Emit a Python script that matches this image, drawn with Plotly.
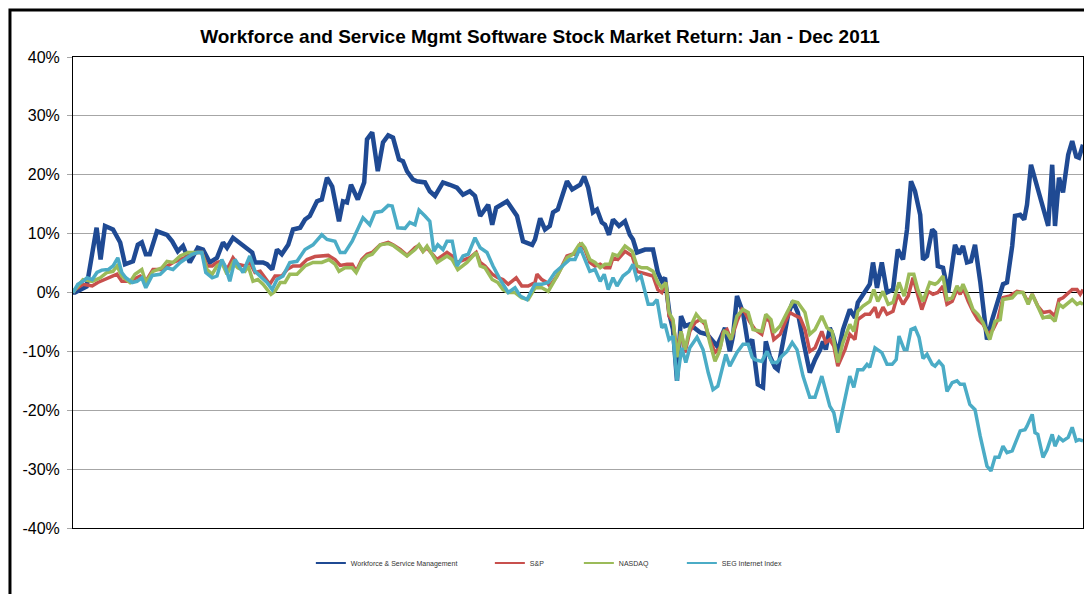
import plotly.graph_objects as go

# Trading-day index (0 = first session of 2011) and cumulative return in %
wsm_days = [0, 0.5, 3.4, 5.9, 6.9, 8, 10, 11.8, 13, 15, 16.2, 17.2, 18.2, 19.2, 21, 23.5, 24.8, 26.2, 27.5, 29.2,
            31.2, 32.5, 34.2, 36, 37.5, 38.5, 40, 41.2, 43.5, 44.8, 45.5, 47.5, 48.5, 49.8, 51, 52.2, 53.8, 55, 56.8, 58,
            59.2, 61, 62.2, 63.5, 64.8, 66.5, 67.5, 68.5, 69.5, 71.2, 72.8, 73.5, 74.8, 76.2, 77.5, 78.8, 80, 81.5, 82.5, 83.5,
            85, 86, 88, 89.2, 90.5, 92.5, 94.2, 96, 97.5, 99.2, 100.5, 101.8, 103.8, 104.8, 105.8, 108.5, 111, 112.5, 114.8, 115.5,
            116.8, 118, 119.2, 120, 121.2, 123.5, 124.8, 126, 126.8, 127.8, 128.8, 130, 131, 132.2, 133, 134, 135, 136.5, 138, 139.2,
            140, 141, 143, 145, 146.2, 147.2, 148, 148.5, 149.2, 150, 151, 152, 153, 154.2, 155.5, 156.8, 158.5, 159.2, 161, 163,
            164.2, 165, 166, 167.5, 168.8, 169.8, 171.2, 172.5, 173.2, 174.2, 175.5, 176.2, 177.5, 178.8, 180, 181.2, 182.5, 184.2, 185.5, 186.8,
            187.5, 188.2, 189.2, 190, 191.2, 192.5, 194.2, 195.5, 196.2, 197.5, 199.2, 200, 201, 202.2, 203.5, 205, 206.2, 207.5, 208.5, 209.5,
            210.5, 211.8, 212.5, 213.5, 214.8, 215.5, 216.2, 217.5, 218.8, 220.5, 221.5, 222.5, 223.5, 224.5, 225.5, 226.8, 227.5, 228.5, 229.8, 231.2,
            232.5, 233.5, 234.8, 235.5, 236.8, 237.8, 238.5, 239.5, 240.8, 242, 242.8, 243.8, 244.8, 245.5, 246.5, 247.5, 248.8, 249.8, 250.8, 251.5, 252.5]
wsm_vals = [0, 0, 1, 11, 5.6, 11.3, 10.7, 8.5, 4.8, 5.3, 8.1, 8.5, 6.5, 6.5, 10.4, 9.8, 8.7, 7.0, 7.9, 5.1,
            7.6, 7.3, 5.1, 5.9, 8.5, 7.6, 9.3, 8.7, 7.6, 6.8, 5.1, 5.1, 4.8, 3.9, 7.3, 6.5, 8.1, 10.7, 11, 12.4,
            13, 15.5, 15.8, 19.5, 18, 12.1, 15.5, 15.3, 18.3, 15.8, 18.7, 26, 27.2, 20.6, 25.5, 26.7, 26.3, 22.6, 22.3, 20.6,
            19.2, 18.9, 18.7, 17.2, 16.4, 18.7, 18.3, 17.8, 16.6, 17.2, 16.4, 13, 14.9, 11.5, 14.4, 15.5, 13, 8.7, 8.1, 9,
            12.6, 10.7, 11.3, 13.6, 14.1, 18.9, 17.5, 18, 18.3, 19.7, 17.8, 13.6, 14.1, 11.9, 11.5, 9.8, 12.4, 11.3, 12.1, 9.8,
            9, 6.8, 7.3, 7.3, 3.4, 1.9, 2.5, -0.3, -4, -6.3, -15, -4, -5.7, -5.4, -6, -6.8, -7.1, -7.6, -9.1, -6,
            -10, -7.4, -0.6, -3.4, -9, -8, -15.6, -16.1, -8.3, -10.8, -12.7, -13.1, -8.5, -3.7, -1.5, -3.4, -8, -13.6, -11.4, -9.7,
            -8.3, -9.7, -6, -7.4, -10.5, -6.3, -2.9, -4.3, -1.7, -0.3, 1.4, 5.1, 0.8, 5.1, 0, 0.5, 7.3, 5.6, 10.7, 18.9,
            17.2, 13.2, 5.6, 6.2, 10.7, 10.2, 4.5, 4.2, 0, 8.1, 6.5, 7.9, 5.1, 5.3, 8.1, 1.9, -1.7, -8, -4.6, -1.2,
            1.4, 1.7, 7.9, 13, 13.2, 12.4, 14.9, 21.7, 18.7, 15.3, 14.1, 11.3, 21.7, 11.3, 19.5, 17, 23.4, 25.7, 23.1, 22.9, 25.1]

sp_days = [0, 0.5, 2.5, 4.8, 6.2, 8, 9, 10, 11, 12.2, 13.8, 15, 16.8, 18.2, 20, 22.2, 23.5, 25, 26.8, 28.8,
           31, 32.2, 33.5, 34.8, 36, 37.2, 38.5, 40, 41.2, 43, 44.2, 45.5, 46.8, 48, 49.2, 50.5, 52.2, 53.5, 55, 56.8,
           58.5, 60.5, 62.2, 63.8, 65.5, 66.8, 68.5, 69.8, 70.8, 72.2, 73.5, 74.8, 76.8, 78.8, 80, 81.8, 83.5, 85.5, 86.5, 87.5,
           88.5, 91, 93.5, 94.8, 96, 98, 99.2, 100.8, 101.8, 103, 104.8, 106.2, 107.5, 108.8, 109.8, 110.8, 112.2, 113.8, 115.5, 116,
           117.2, 118.5, 119.2, 121, 123.5, 124.8, 126, 126.8, 128, 129.2, 130.5, 131.8, 133, 134.2, 135, 136.2, 138, 139.8, 141, 142.2,
           143.5, 145, 146.2, 147.2, 148.2, 149, 150, 151, 152, 153, 154.2, 155.5, 156.8, 158, 159.2, 160.5, 161.8, 162.5, 163.5, 164.5,
           166, 167.2, 168, 169.2, 170.5, 172.2, 173.2, 174.2, 175.2, 176.8, 178, 179.2, 180.5, 181.8, 183, 184.2, 185.5, 187.2, 188.2, 189.2,
           190.2, 191.2, 193, 194.2, 195.5, 196.2, 198, 199.2, 200.5, 201.2, 202.5, 203.5, 205, 206.2, 207.5, 208.8, 210, 211, 212.2, 213.8,
           215, 216.2, 217.5, 218.5, 219.8, 221, 221.8, 222.5, 223.8, 225, 226.2, 227.5, 228.8, 230, 231.2, 232.5, 234.2, 236, 237.5, 238.8,
           239.8, 241.2, 242.5, 244.2, 245.5, 246.5, 247.5, 249.8, 251, 251.8, 252.5]
sp_vals = [0, 0.5, 1.4, 1.1, 1.7, 2.2, 2.4, 2.8, 3.1, 1.9, 1.9, 2.2, 2.8, 1.9, 3.9, 3.9, 4.5, 5.1, 5.6, 6.2,
           6.8, 6.8, 4.5, 4.5, 5.1, 5.3, 3.9, 5.9, 4.8, 4.5, 5.1, 3.4, 3.6, 2.5, 1.4, 2.8, 2.8, 3.9, 4.5, 4.5,
           5.6, 6.1, 6.2, 6.3, 5.6, 4.6, 4.8, 4.8, 3.6, 5.6, 6.5, 6.8, 8.1, 8.5, 8.1, 7.3, 6.3, 7.6, 8, 7,
           7.6, 5.6, 6.8, 6.2, 5.1, 5.6, 5.9, 6.8, 5.1, 4.5, 3.1, 2.5, 2.2, 1.4, 1.9, 2.5, 1.1, 1.1, 1.7, 3.1,
           2.2, 1.7, 1.1, 2.8, 6.2, 6.5, 6.5, 8.1, 7.3, 5.1, 4.5, 4.8, 4.2, 4.2, 5.9, 5.6, 7, 6.2, 3.6, 3.4,
           3.1, 2.8, 0.5, 0, 1.7, -4, -4.9, -10.2, -6.6, -10.2, -6.6, -5.1, -4.6, -5.4, -8, -10.2, -9.4, -6.8, -6.3, -8,
           -4.9, -2.9, -3.4, -5, -6.3, -7.1, -4.3, -4.9, -8, -7.1, -5.1, -3.4, -3.9, -4.3, -6.3, -10, -9.4, -6.6, -8.5, -8,
           -9.1, -12.5, -9.7, -7.1, -8, -4.6, -3.7, -3.7, -2.5, -4.3, -2.5, -3.7, -3.2, -0.3, -2, -0.6, 2.5, 0, -2.9, 0.2,
           -0.3, 0, 1.1, -2, -1.5, 0.5, -0.3, 0.8, -1.5, -3.2, -4.6, -5.4, -7.1, -6.3, -4.6, -0.9, -0.6, 0.2, 0, -1.7,
           -0.3, -2.3, -3.4, -3.2, -4, -1.2, -0.9, 0.5, 0.5, -0.3, 0.5]

nasdaq_days = [0, 0.5, 2.5, 4.8, 6.8, 8.5, 10, 11, 12.2, 13.5, 14.2, 15.5, 17.2, 18.2, 20, 22.2, 23.5, 25, 26.8, 28.8,
               30.5, 32.2, 33.5, 34.8, 36, 37.2, 38.5, 40, 41.2, 43, 43.8, 45, 46.2, 47.5, 49.5, 50.5, 51.8, 53, 54.2, 56,
               58, 60, 62.2, 64, 65.5, 66.5, 68, 69.8, 70.8, 72.2, 73.5, 74.8, 76.8, 78.8, 80, 81.8, 83.5, 85.5, 86.5, 87.5,
               88.5, 91, 93.5, 94.8, 96.2, 98.5, 100.8, 101.8, 103, 104.8, 106.2, 107.5, 108.8, 110.5, 112.2, 113.8, 115.5, 117.2, 118.8, 121,
               123.5, 125, 126.5, 127.2, 128, 129.2, 130.5, 131.8, 133, 134.2, 135, 136.2, 138, 139.8, 141, 142.2, 143.5, 145, 146.2, 147.2,
               148.2, 149, 150, 151, 152, 153, 154.2, 155.8, 157.2, 158, 159.2, 160.5, 161.5, 162.8, 163.5, 164.5, 166, 167.5, 168.8, 170,
               172.2, 173.2, 174.5, 175.2, 176.8, 178.5, 180, 181.2, 183, 184.2, 185.5, 187.2, 188.5, 189.8, 191.2, 192.5, 194.2, 195.2, 196.2, 197.5,
               199.2, 200.2, 201.2, 202.5, 203.8, 205, 206.5, 207.8, 209, 210.2, 211.2, 212.5, 214.2, 215.5, 216.2, 217.5, 218.5, 219.8, 221, 221.8,
               222.5, 223.8, 225, 226.2, 227.5, 229.2, 230.5, 231.8, 232.5, 234.8, 236, 237.5, 238.8, 239.8, 241.2, 242.5, 244.2, 245.5, 246.5, 247.5,
               249.8, 251, 251.8, 252.5]
nasdaq_vals = [0, 0.5, 2.2, 1.9, 2.5, 3.4, 3.6, 4.5, 2.8, 2.2, 1.7, 3.1, 3.9, 1.7, 3.6, 4.2, 5.3, 5.1, 6.2, 6.8,
               6.8, 6.8, 3.9, 3.1, 4.5, 5.1, 3.1, 5.1, 4.2, 3.6, 4.5, 1.9, 2.2, 1.4, -0.3, 0.2, 1.7, 1.7, 3.1, 3.1,
               4.5, 5.1, 5.1, 5.6, 4.8, 3.6, 4.2, 4.2, 3.4, 5.3, 6.2, 6.5, 8.1, 8.3, 8, 7, 6.2, 7.3, 8.1, 7,
               7.9, 5.1, 6.2, 5.6, 3.9, 5.1, 6.8, 4.5, 4.2, 2.2, 1.7, 0.5, 0, 0, -0.9, -1.2, 0.8, 0.8, 0.2, 2.8,
               5.9, 6.5, 8.1, 8.3, 7.6, 5.6, 5.1, 4.2, 4.8, 4.8, 6.5, 6.2, 7.9, 7, 4.5, 4.2, 4.2, 3.6, 1.7, 0.8,
               1.7, -3.4, -4.6, -11, -6.6, -9.7, -6, -3.7, -4.9, -4.9, -8.5, -11.7, -10.2, -6.6, -6.8, -8, -4, -2.9, -3.4, -6.3,
               -6.6, -3.7, -4.6, -6.8, -5.7, -3.4, -1.5, -1.7, -3.4, -7.1, -6.3, -4, -6, -6.6, -11.9, -8.5, -5.4, -6.6, -3.2, -2.3,
               -1.5, 0.5, -1.5, 0.2, -2, -1.7, 1.7, -0.6, 3.1, 3.1, 0.5, -1.5, 1.7, 1.4, 1.7, 2.8, -1.2, -0.9, 1.1, 0.2,
               1.4, -0.6, -2.9, -3.7, -5.1, -8, -4.9, -4.6, -1.2, -0.9, 0, 0, -2, -0.3, -2.3, -4.3, -4, -4.9, -2, -2.5,
               -1.2, -2, -1.7, -2]

seg_days = [0, 0.2, 1.2, 2.5, 3.5, 4.8, 6, 7.2, 8.8, 10, 11.2, 12.2, 13.2, 14.8, 16, 17.2, 18.2, 19.8, 21.8, 23.5,
            25, 26.8, 28.5, 29.8, 31.2, 32.2, 33.2, 34.8, 36, 37.2, 38, 39.2, 40.5, 41.8, 42.5, 44.2, 45.5, 47.2, 48.5, 49.8,
            51, 52.5, 54.2, 56, 58, 60, 62.2, 63.5, 65.5, 66.8, 68, 69.8, 71, 72.5, 74.2, 75.5, 77.2, 78.8, 79.8, 81.2,
            83, 84.2, 85.5, 86.5, 88, 89.2, 90.2, 91.2, 92.5, 93.5, 94.8, 96, 97.5, 98.8, 100.5, 101.8, 103.5, 105, 106.8, 108.8,
            110.5, 111.8, 113.5, 115.5, 117.2, 118.8, 120.5, 122.5, 124.2, 125.5, 126.8, 128, 129.2, 130.5, 131.8, 132.8, 133.8, 135, 136, 137.5,
            139, 140, 141, 142, 143.8, 145, 146, 147.2, 148, 149, 150, 151, 152.2, 153.2, 154.2, 156, 157.5, 158.8, 160, 161.2,
            163.2, 164.2, 166, 167.5, 168.8, 169.8, 170.5, 172.2, 173.5, 174.8, 176, 177.2, 178.5, 179.8, 181, 182.5, 184.2, 185.5, 187.2, 189.2,
            190.2, 191.2, 192.5, 194.2, 195.2, 196.2, 197.5, 198.5, 199.2, 200.5, 202.2, 203.5, 204.8, 205.8, 206.5, 207.8, 208.5, 209.5, 210.5, 211.5,
            212.5, 213.5, 214.8, 215.5, 216.5, 217.5, 218.5, 219.8, 221, 221.8, 222.8, 224.2, 225.5, 226.8, 228.5, 229.5, 230.5, 231.5, 232.5, 233.5,
            234.8, 236.8, 238, 238.5, 239.8, 240.5, 241.2, 242.5, 243.5, 244.8, 245.5, 246.5, 247.5, 248.8, 249.8, 250.8, 251.5, 252.5]
seg_vals = [0, 0.2, 1.4, 1.9, 2.5, 2.2, 3.4, 3.8, 3.9, 4.5, 5.9, 3.4, 2.5, 1.7, 1.9, 2.5, 0.8, 2.9, 3.1, 4.2,
            3.9, 5.1, 5.9, 6.5, 6.8, 6.8, 3.4, 2.5, 2.8, 5.6, 4.5, 1.9, 5.6, 4.0, 3.4, 6.2, 3.6, 2.5, 1.7, 0.5,
            2.2, 2.8, 5.1, 5.3, 7.3, 8.1, 9.8, 9, 8.7, 6.8, 6.8, 8.7, 10.4, 12.7, 11.5, 13.6, 13.8, 14.8, 14.7, 11,
            10.9, 11.9, 11.5, 14, 13, 12.1, 7, 8.1, 7.3, 8.7, 8.7, 4.5, 6.2, 6.5, 9.3, 7.6, 6.8, 4.5, 2.2, 0,
            0.8, -0.6, -1.2, 1.4, 1.4, 1.7, 3.4, 4.5, 5.6, 5.6, 7.6, 5.6, 3.6, 3.9, 1.9, 3.1, 0.5, 2.5, 1.1, 2.8,
            3.6, 4.8, 2.2, 2.8, -2, -2, -1.2, -6, -5.4, -8, -7.4, -15, -9.4, -11.9, -9.4, -7.6, -9.7, -13.6, -16.5, -15.9,
            -10.5, -12.5, -10.2, -8.8, -8.8, -11, -11.4, -11.7, -10, -11.9, -11.9, -10.8, -10, -8.5, -9.7, -14.2, -17.8, -17.8, -14.2, -19.3,
            -20.4, -23.8, -19.9, -14.2, -16.1, -13.1, -13.1, -12.2, -12.7, -9.4, -10.2, -12.2, -12.2, -11.4, -7.4, -9.7, -9.7, -6.3, -6, -7.6,
            -11.2, -10.5, -12.2, -12.5, -11.7, -12.5, -16.8, -15.3, -15, -15.6, -15.6, -19, -19.9, -24.4, -29.5, -30.3, -28, -28, -26.1, -27.2,
            -26.9, -23.5, -23.3, -22.7, -20.7, -23.8, -24.1, -28, -26.7, -24.1, -26.1, -24.6, -25.2, -24.6, -22.9, -25.2, -25, -25.2]

series_names = ["Workforce & Service Management", "S&P", "NASDAQ", "SEG Internet Index"]
series_colors = ["#1F4A93", "#C8504D", "#9BBB59", "#4BACC6"]
series_widths = [4.5, 3.5, 3.5, 3.5]
legend_entry_widths = [134, 44, 58, 90]
y_ticks = [-40, -30, -20, -10, 0, 10, 20, 30, 40]
y_tick_text = ["-40%", "-30%", "-20%", "-10%", "0%", "10%", "20%", "30%", "40%"]
title_text = "Workforce and Service Mgmt Software Stock Market Return: Jan - Dec 2011"

W, H = 1084, 594

fig = go.Figure()
all_days = [wsm_days, sp_days, nasdaq_days, seg_days]
all_vals = [wsm_vals, sp_vals, nasdaq_vals, seg_vals]
for name, color, w, d, v in zip(series_names, series_colors, series_widths, all_days, all_vals):
    fig.add_trace(go.Scatter(x=d, y=v, mode="lines", name=name, showlegend=False,
                             line=dict(color=color, width=w), hoverinfo="skip"))
# legend entries with thin key lines (no data drawn)
for name, color, lw in zip(series_names, series_colors, legend_entry_widths):
    fig.add_trace(go.Scatter(x=[None], y=[None], mode="lines", name=name, legendwidth=lw,
                             line=dict(color=color, width=2), hoverinfo="skip"))

fig.update_layout(
    width=W, height=H,
    margin=dict(l=73, r=1, t=57, b=66),
    paper_bgcolor="white", plot_bgcolor="white",
    font=dict(family="Arial, Liberation Sans, sans-serif", color="black"),
    title=dict(text="<b>" + title_text + "</b>", x=540 / W, xref="container", xanchor="center",
               y=1 - 36 / H, yanchor="middle", font=dict(size=19, color="black")),
    showlegend=True,
    legend=dict(orientation="h", x=0.486, xanchor="center", y=-0.0743, yanchor="middle",
                font=dict(size=7, color="#333333"), itemwidth=30, tracegroupgap=0,
                entrywidthmode="pixels", bgcolor="rgba(0,0,0,0)"),
    xaxis=dict(range=[0, 252.5], showgrid=False, zeroline=False, showticklabels=False, ticks="",
               showline=True, linecolor="black", linewidth=1, mirror=True, fixedrange=True),
    yaxis=dict(range=[-40, 40], tickvals=y_ticks, ticktext=y_tick_text, showgrid=True, gridcolor="#A6A6A6",
               gridwidth=1, zeroline=True, zerolinecolor="black", zerolinewidth=1,
               ticks="outside", ticklen=5, tickcolor="#A6A6A6", ticklabelstandoff=4,
               tickfont=dict(size=16, color="black"),
               showline=True, linecolor="black", linewidth=1, mirror=True, fixedrange=True),
    shapes=[dict(type="rect", xref="paper", yref="paper", x0=-0.0624, x1=1.05, y0=-0.3, y1=1.0998,
                 line=dict(color="black", width=3), layer="below")],
)

fig.write_html("out.html", config={"displayModeBar": False},
               post_script="document.body.style.margin='0';document.body.style.overflow='hidden';"
                           "document.documentElement.style.overflow='hidden';")
